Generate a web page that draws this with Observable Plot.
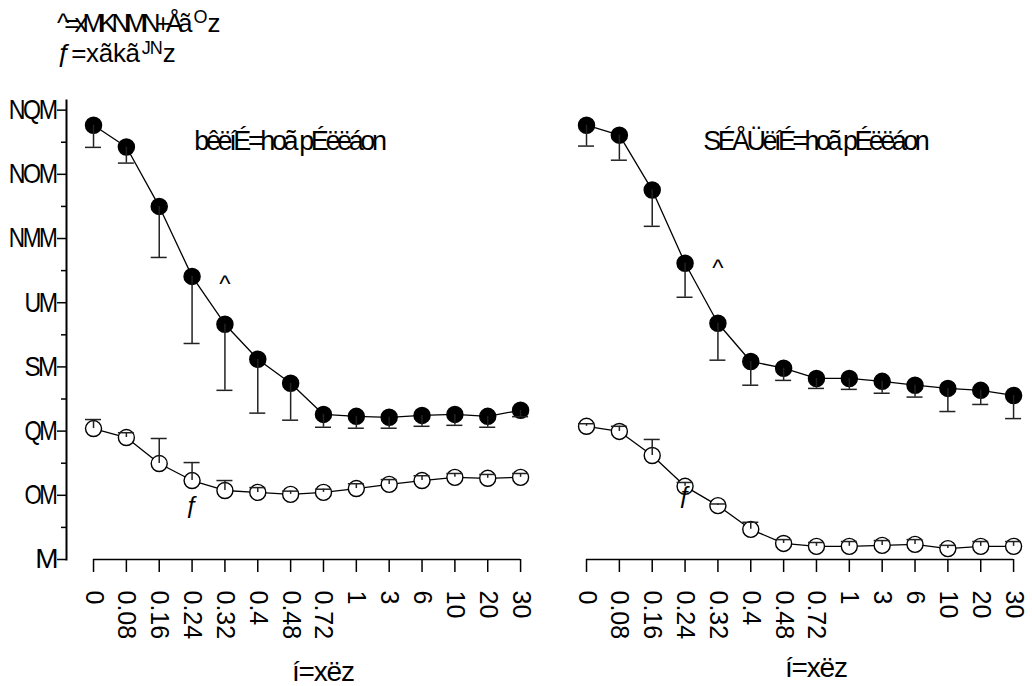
<!DOCTYPE html>
<html><head><meta charset="utf-8">
<script src="https://cdn.jsdelivr.net/npm/d3@7"></script>
<script src="https://cdn.jsdelivr.net/npm/@observablehq/plot@0.6"></script>
<style>
body{margin:0;background:#fff;}
#wrap{position:relative;width:1032px;height:686px;font-family:"Liberation Sans",Arial,sans-serif;color:#000;}
#title{position:absolute;left:57px;top:8px;font-size:26px;line-height:30px;white-space:nowrap;}
#title .l1 .m{letter-spacing:-5px;}
#title .l2{letter-spacing:-0.3px;}
#title sup{font-size:18px;line-height:0;vertical-align:0;position:relative;top:-9px;margin:0 1px 0 6px;letter-spacing:-1px;}
#title .l2 sup{margin-left:2px;top:-8px;}
#chart{position:absolute;left:0;top:72px;}
#chart g[aria-label="y-axis tick label"] text{letter-spacing:-3px;}
</style></head>
<body>
<div id="wrap">
  <div id="title"></div>
  <div id="chart"></div>
</div>
<script>
// ---- data ----
const doses = ["0","0.08","0.16","0.24","0.32","0.4","0.48","0.72","1","3","6","10","20","30"];
const panels = ["bêëíÉ=hoã pÉëëáon", "SÉÅÜëíÉ=hoã pÉëëáon"];
const titleLine1 = ["^=xMKNMN+Åã", "O", "z"];
const titleLine2 = ["ƒ=xãkã", "JN", "z"];
const xTitle = "í=xëz";
const seriesLabels = ["^", "ƒ"];

// left panel
const filledLeft    = [135.3,128.5,110.0,88.2,73.3,62.4,54.9,45.2,44.6,44.3,44.9,45.2,44.6,46.5];
const filledLeftErr = [6.9,5.0,15.9,20.9,20.6,16.8,11.5,4.0,3.7,3.4,3.4,3.4,3.4,2.0];
const openLeft      = [40.8,38.0,29.9,24.6,21.5,20.9,20.3,20.9,22.1,23.4,24.6,25.6,25.3,25.6];
const openLeftErr   = [2.8,1.5,7.8,5.6,3.1,1.5,1.0,1.0,1.5,1.5,1.5,1.2,1.2,1.2];
// right panel
const filledRight    = [135.3,132.2,115.1,92.3,73.6,61.7,59.6,56.4,56.4,55.5,54.3,53.3,52.7,51.1];
const filledRightErr = [6.5,7.8,11.3,10.6,11.5,7.4,3.8,3.1,3.4,3.7,3.7,7.2,4.4,7.2];
const openRight      = [41.5,39.9,32.4,22.8,16.8,9.4,5.0,4.1,4.1,4.4,4.7,3.4,4.1,4.1];
const openRightErr   = [0.8,1.6,5.0,1.2,0.5,2.2,1.2,1.2,1.5,1.5,1.5,1.0,1.5,1.5];

const yTicks = [0,20,40,60,80,100,120,140];
const yTickLabels = ["M","OM","QM","SM","UM","NMM","NOM","NQM"];
const yMinorTicks = [10,30,50,70,90,110,130];

// annotation positions (in data units)
const panelTitleAt = [{dose:"0.48", y:130.3},{dose:"0.72", y:130.3}];
const xTitleAt = [{dose:"0.72", y:-35.2},{dose:"0.72", y:-33.8}];
const labelAt = [
  {panel:0, s:0, dose:"0.32", y:85.7},
  {panel:1, s:0, dose:"0.32", y:90.7},
  {panel:0, s:1, dose:"0.24", y:16.8},
  {panel:1, s:1, dose:"0.24", y:20.0}
];

// ---- build tables ----
const rows = [];
const sets = [
  [0,"A",filledLeft,filledLeftErr,-1],
  [0,"B",openLeft,openLeftErr,1],
  [1,"A",filledRight,filledRightErr,-1],
  [1,"B",openRight,openRightErr,1]
];
for (const [p,s,vals,errs,dir] of sets) {
  vals.forEach((v,i) => rows.push({panel:panels[p], series:s, dose:doses[i], value:v, end:v+dir*errs[i]}));
}
const titles = panels.map((t,i) => ({panel:t, text:t, dose:panelTitleAt[i].dose, y:panelTitleAt[i].y}));
const xTitles = panels.map((t,i) => ({panel:t, text:xTitle, dose:xTitleAt[i].dose, y:xTitleAt[i].y}));
const labels = labelAt.map(d => ({panel:panels[d.panel], text:seriesLabels[d.s], dose:d.dose, y:d.y}));

// ---- title ----
const tEl = document.getElementById("title");
tEl.innerHTML = `<div class="l1"><span class="m">${titleLine1[0]}</span><sup>${titleLine1[1]}</sup>${titleLine1[2]}</div>` +
                `<div class="l2">${titleLine2[0]}<sup>${titleLine2[1]}</sup>${titleLine2[2]}</div>`;

// ---- chart ----
const FONT = '"Liberation Sans",Arial,sans-serif';
const W = 1032, ML = 66, MR = 2.5, PAD = 0.0456, XIN = 10.6;
const facetStep = (W - ML - MR) / (2 - PAD);
const facetBand = facetStep * (1 - PAD);
const bw = (facetBand - XIN) / doses.length; // band width of x
const YFS = 28;
const chart = Plot.plot({
  width: W,
  height: 614,
  marginLeft: ML,
  marginRight: MR,
  marginTop: 28,
  marginBottom: 127,
  style: {fontFamily: FONT, background: "white", color: "black", overflow: "visible"},
  fx: {domain: panels, paddingInner: PAD, paddingOuter: 0, round: false, axis: null, label: null},
  x: {type: "band", domain: doses, padding: 0, round: false, insetLeft: XIN, insetRight: 0, axis: null},
  y: {domain: [0, 143], axis: null},
  marks: [
    Plot.frame({anchor: "left", facetAnchor: "left", stroke: "black", strokeWidth: 2}),
    Plot.axisY({ticks: yMinorTicks, tickSize: 5, tickFormat: () => "", strokeWidth: 1.5, label: null}),
    Plot.axisY({ticks: yTicks, tickSize: 9, tickPadding: 2, tickFormat: d => yTickLabels[yTicks.indexOf(d)],
                fontSize: YFS, strokeWidth: 1.5, label: null}),
    Plot.axisX({tickRotate: 90, tickSize: 13, tickPadding: 18, fontSize: 25, strokeWidth: 1.5, label: null}),
    Plot.ruleY([0], {x1: () => doses[0], x2: () => doses[doses.length-1], stroke: "black", strokeWidth: 1.5,
                     insetLeft: bw/2, insetRight: bw/2}),
    Plot.line(rows, {fx: "panel", x: "dose", y: "value", z: "series", stroke: "black", strokeWidth: 1.3}),
    Plot.dot(rows.filter(d => d.series === "A"), {fx: "panel", x: "dose", y: "value", r: 8, fill: "black", stroke: "black"}),
    Plot.dot(rows.filter(d => d.series === "B"), {fx: "panel", x: "dose", y: "value", r: 8, fill: "white", stroke: "black", strokeWidth: 1.4}),
    Plot.ruleX(rows, {fx: "panel", x: "dose", y1: "value", y2: "end", stroke: "#222", strokeWidth: 1.5}),
    Plot.tickY(rows, {fx: "panel", x: "dose", y: "end", stroke: "#222", strokeWidth: 1.5, insetLeft: bw/2 - 8, insetRight: bw/2 - 8}),
    Plot.text(titles, {fx: "panel", x: "dose", y: "y", text: "text", fontSize: 27, className: "ptitle", fill: "black"}),
    Plot.text(xTitles, {fx: "panel", x: "dose", y: "y", text: "text", fontSize: 28, className: "xtitle", fill: "black"}),
    Plot.text(labels, {fx: "panel", x: "dose", y: "y", text: "text", fontSize: 24, fill: "black"})
  ]
});
document.getElementById("chart").appendChild(chart);

// tighten texts (the reference glyphs are squeezed and overlap)
function tighten(sel, f, mode) {
  chart.querySelectorAll(sel).forEach(t => {
    const L = t.getComputedTextLength();
    if (L > 0 && t.textContent.length > 1) {
      t.setAttribute("textLength", (typeof f === "function" ? f(t, L) : L * f).toFixed(1));
      t.setAttribute("lengthAdjust", mode);
    }
  });
}
tighten('g[aria-label="y-axis tick label"] text', (t) => t.textContent.length * 0.556 * YFS, "spacingAndGlyphs");
tighten('.ptitle text', 0.78, "spacing");
tighten('.xtitle text', 0.93, "spacing");
</script>
</body></html>
